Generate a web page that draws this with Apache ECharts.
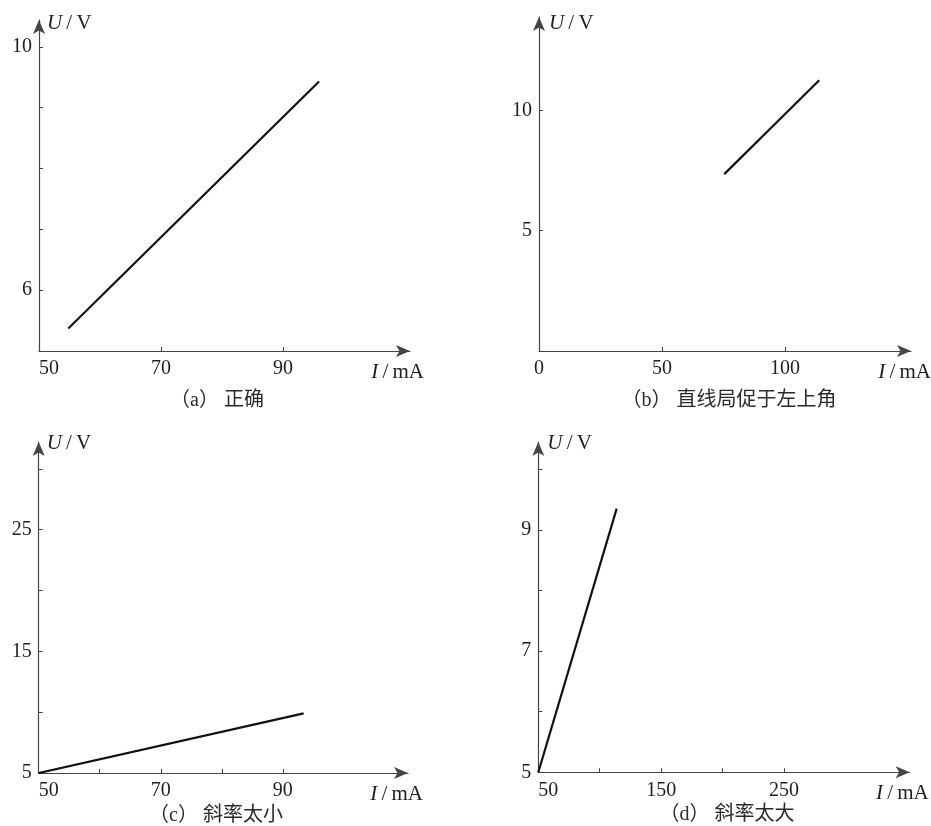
<!DOCTYPE html>
<html><head><meta charset="utf-8">
<script src="https://cdn.jsdelivr.net/npm/echarts@6/dist/echarts.min.js"></script>
<style>html,body{margin:0;padding:0;background:#fff}#c{width:931px;height:826px}</style>
</head><body><div id="c"></div>
<script>
// Panel (a) 正确
const aI = [54.8, 95.9];
const aU = [5.37, 9.43];
const aXTicks = [50, 70, 90];
const aXLabels = [50, 70, 90];
const aYTicks = [6, 7, 8, 9, 10];
const aYLabels = [6, 10];
// Panel (b) 直线局促于左上角
const bI = [75.3, 113.9];
const bU = [7.35, 11.25];
const bXTicks = [0, 50, 100];
const bXLabels = [0, 50, 100];
const bYTicks = [5, 10];
const bYLabels = [5, 10];
// Panel (c) 斜率太小
const cI = [50, 93.4];
const cU = [5, 9.9];
const cXTicks = [50, 60, 70, 80, 90];
const cXLabels = [50, 70, 90];
const cYTicks = [5, 10, 15, 20, 25, 30];
const cYLabels = [5, 15, 25];
// Panel (d) 斜率太大
const dI = [50, 113.8];
const dU = [5, 9.35];
const dXTicks = [50, 100, 150, 200, 250];
const dXLabels = [50, 150, 250];
const dYTicks = [5, 6, 7, 8, 9, 10];
const dYLabels = [5, 7, 9];
const captions = ['（a） 正确', '（b） 直线局促于左上角', '（c） 斜率太小', '（d） 斜率太大'];

const SERIF = '"Liberation Serif", "DejaVu Serif", serif';
const AX = '#444';
const TXT = '#1e1e1e';

const panels = [
  {I: aI, U: aU, xt: aXTicks, xl: aXLabels, yt: aYTicks, yl: aYLabels,
   grid: {left: 39, top: 20, width: 371, height: 331}, x: [50, 110.8], y: [5, 10.44],
   yName: {gap: -3, pad: 8}, xName: {gap: 14}, cap: [217, 401]},
  {I: bI, U: bU, xt: bXTicks, xl: bXLabels, yt: bYTicks, yl: bYLabels,
   grid: {left: 539, top: 17, width: 372, height: 334}, x: [0, 151.2], y: [0, 13.88],
   yName: {gap: -6, pad: 10}, xName: {gap: 20}, cap: [729, 401]},
  {I: cI, U: cU, xt: cXTicks, xl: cXLabels, yt: cYTicks, yl: cYLabels,
   grid: {left: 38.7, top: 442, width: 369.3, height: 331}, x: [50, 110.5], y: [5, 32.2],
   yName: {gap: -1, pad: 8}, xName: {gap: 15}, cap: [216, 816]},
  {I: dI, U: dU, xt: dXTicks, xl: dXLabels, yt: dYTicks, yl: dYLabels,
   grid: {left: 538.3, top: 442, width: 371.4, height: 330.3}, x: [50, 352.3], y: [5, 10.45],
   yName: {gap: -1, pad: 9}, xName: {gap: 19}, cap: [727, 815]}
];

const nameRich = {
  i: {fontStyle: 'italic', fontFamily: SERIF, fontSize: 21, color: TXT},
  n: {fontFamily: SERIF, fontSize: 21, color: TXT}
};

const grids = [], xAxes = [], yAxes = [], series = [], graphics = [];
panels.forEach((p, i) => {
  grids.push(Object.assign({containLabel: false, outerBoundsMode: 'none'}, p.grid));
  xAxes.push({
    type: 'value', gridIndex: i, min: p.x[0], max: p.x[1],
    name: '{i|I}{n|\u2009/\u2009mA}', nameLocation: 'end', nameGap: p.xName.gap,
    nameTextStyle: {align: 'right', verticalAlign: 'top', padding: [11, 0, 0, 0],
      fontFamily: SERIF, fontSize: 21, color: TXT, rich: nameRich},
    axisLine: {show: true, onZero: false, symbol: ['none', 'arrow'], symbolSize: [9, 14],
      lineStyle: {color: AX, width: 1.2}},
    axisTick: {show: true, inside: true, length: 4, customValues: p.xt, lineStyle: {color: AX}},
    axisLabel: {show: true, customValues: p.xl, margin: 8, alignMinLabel: i === 1 ? 'center' : 'left',
      fontFamily: SERIF, fontSize: 20, color: TXT},
    splitLine: {show: false}
  });
  yAxes.push({
    type: 'value', gridIndex: i, min: p.y[0], max: p.y[1],
    name: '{i|U}{n|\u2009/\u2009V}', nameLocation: 'end', nameGap: p.yName.gap,
    nameTextStyle: {align: 'left', verticalAlign: 'middle', padding: [0, 0, 0, p.yName.pad],
      fontFamily: SERIF, fontSize: 21, color: TXT, rich: nameRich},
    axisLine: {show: true, onZero: false, symbol: ['none', 'arrow'], symbolSize: [9, 14],
      lineStyle: {color: AX, width: 1.2}},
    axisTick: {show: true, inside: true, length: 4, customValues: p.yt, lineStyle: {color: AX}},
    axisLabel: {show: true, customValues: p.yl, margin: 7,
      fontFamily: SERIF, fontSize: 20, color: TXT},
    splitLine: {show: false}
  });
  series.push({
    type: 'line', xAxisIndex: i, yAxisIndex: i, showSymbol: false, silent: true,
    data: p.I.map((v, k) => [v, p.U[k]]),
    lineStyle: {color: '#111', width: 2.2}
  });
  graphics.push({
    type: 'text', x: p.cap[0], y: p.cap[1],
    style: {text: captions[i], textAlign: 'center', textVerticalAlign: 'middle',
      font: '20px "Liberation Serif", "Noto Sans CJK SC", sans-serif', fill: '#2a2a2a'}
  });
});

const chart = echarts.init(document.getElementById('c'), null, {renderer: 'canvas'});
chart.setOption({
  animation: false,
  backgroundColor: '#fff',
  grid: grids, xAxis: xAxes, yAxis: yAxes, series: series,
  graphic: graphics
});
</script>
</body></html>
